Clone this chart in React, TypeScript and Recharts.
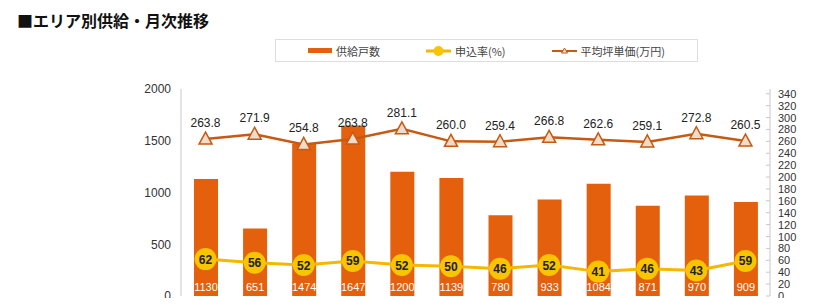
import React from 'react';
import { ComposedChart, Bar, Line, XAxis, YAxis, LabelList } from 'recharts';

// 月別データ
const months = ['1', '2', '3', '4', '5', '6', '7', '8', '9', '10', '11', '12'];
const supply = [1130, 651, 1474, 1647, 1200, 1139, 780, 933, 1084, 871, 970, 909];
const applyRate = [62, 56, 52, 59, 52, 50, 46, 52, 41, 46, 43, 59];
const unitPrice = [263.8, 271.9, 254.8, 263.8, 281.1, 260.0, 259.4, 266.8, 262.6, 259.1, 272.8, 260.5];
const leftTicks = [0, 500, 1000, 1500, 2000];
const rightTicks = [0, 20, 40, 60, 80, 100, 120, 140, 160, 180, 200, 220, 240, 260, 280, 300, 320, 340];

const BAR_COLOR = '#e4600c';
const RATE_COLOR = '#f5b800';
const PRICE_COLOR = '#c65a12';
const FONT = '"Liberation Sans", Arial, sans-serif';
const JP_FONT = '"Noto Sans CJK JP", sans-serif';

const data = months.map((m, i) => ({
  month: m,
  supply: supply[i],
  rate: applyRate[i],
  price: unitPrice[i],
}));

const TriangleDot = (props: any) => {
  const { cx, cy, index } = props;
  if (cx == null || cy == null) return <g key={index} />;
  return (
    <path
      key={index}
      d={`M${cx},${cy - 7} L${cx - 6.5},${cy + 5} L${cx + 6.5},${cy + 5} Z`}
      fill="#efdccb"
      stroke={PRICE_COLOR}
      strokeWidth={1.5}
    />
  );
};

const RateDot = (props: any) => {
  const { cx, cy, index } = props;
  if (cx == null || cy == null) return <g key={index} />;
  return <circle key={index} cx={cx} cy={cy} r={11} fill="#f9c400" />;
};

const RateLabel = (props: any) => {
  const { x, y, value } = props;
  return (
    <text x={x} y={y} dy={4.5} textAnchor="middle" fontSize={12} fontWeight="bold" fill="#222" fontFamily={FONT}>
      {value}
    </text>
  );
};

const RightTick = (props: any) => {
  const { x, y, payload } = props;
  return (
    <g>
      <line x1={x - 12} x2={x - 8} y1={y} y2={y} stroke="#c8c8c8" />
      <text x={x} y={y} dy={4} textAnchor="start" fontSize={11} fill="#333" fontFamily={FONT}>
        {payload.value}
      </text>
    </g>
  );
};

function LegendBox() {
  const item = (swatch: React.ReactNode, label: string) => (
    <div style={{ display: 'flex', alignItems: 'center', gap: 4 }}>
      {swatch}
      <span>{label}</span>
    </div>
  );
  return (
    <div
      style={{
        position: 'absolute',
        left: 275,
        top: 39,
        width: 423,
        height: 23,
        boxSizing: 'border-box',
        border: '1px solid #dedede',
        display: 'flex',
        alignItems: 'center',
        justifyContent: 'center',
        gap: 46,
        fontFamily: JP_FONT,
        fontSize: 11,
        color: '#444',
      }}
    >
      {item(<div style={{ width: 24, height: 5, background: BAR_COLOR }} />, '供給戸数')}
      {item(
        <svg width={25} height={12}>
          <line x1={0} x2={25} y1={6} y2={6} stroke={RATE_COLOR} strokeWidth={3} />
          <circle cx={12.5} cy={6} r={5} fill="#f9c400" />
        </svg>,
        '申込率(%)'
      )}
      {item(
        <svg width={25} height={12}>
          <line x1={0} x2={25} y1={6} y2={6} stroke={PRICE_COLOR} strokeWidth={2} />
          <path d="M12.5,3 L9.5,8 L15.5,8 Z" fill="#efdccb" stroke={PRICE_COLOR} strokeWidth={1} />
        </svg>,
        '平均坪単価(万円)'
      )}
    </div>
  );
}

export default function App() {
  return (
    <div style={{ position: 'relative', width: 830, height: 306, background: '#fff', margin: -8, overflow: 'hidden' }}>
      <div
        style={{
          position: 'absolute',
          left: 17,
          top: 9,
          fontFamily: JP_FONT,
          fontSize: 16,
          fontWeight: 'bold',
          color: '#111',
          lineHeight: '22px',
        }}
      >
        ■エリア別供給・月次推移
      </div>
      <LegendBox />
      <ComposedChart
        width={830}
        height={306}
        data={data}
        margin={{ top: 89, right: 20, bottom: 10, left: 121 }}
        style={{ position: 'absolute', left: 0, top: 0 }}
      >
        <XAxis dataKey="month" hide />
        <YAxis
          yAxisId="left"
          orientation="left"
          width={60}
          domain={[0, 2000]}
          ticks={leftTicks}
          tickLine={false}
          tickSize={0}
          tickMargin={10}
          axisLine={{ stroke: '#c8c8c8' }}
          tick={{ fontSize: 12, fill: '#333', fontFamily: FONT }}
          interval={0}
        />
        <YAxis
          yAxisId="right"
          orientation="right"
          width={40}
          domain={[0, 348]}
          ticks={rightTicks}
          tickLine={false}
          tickSize={0}
          tickMargin={8}
          axisLine={{ stroke: '#c8c8c8' }}
          tick={<RightTick />}
          interval={0}
        />
        <Bar yAxisId="left" dataKey="supply" fill={BAR_COLOR} barSize={24} isAnimationActive={false}>
          <LabelList
            dataKey="supply"
            position="insideBottom"
            offset={5}
            fill="#fff"
            fontSize={11}
            fontFamily={FONT}
          />
        </Bar>
        <Line
          yAxisId="right"
          dataKey="price"
          stroke={PRICE_COLOR}
          strokeWidth={2.5}
          dot={TriangleDot}
          activeDot={false}
          isAnimationActive={false}
        >
          <LabelList
            dataKey="price"
            position="top"
            offset={12}
            fill="#222"
            fontSize={12}
            fontFamily={FONT}
            formatter={(v: any) => Number(v).toFixed(1)}
          />
        </Line>
        <Line
          yAxisId="right"
          dataKey="rate"
          stroke={RATE_COLOR}
          strokeWidth={3}
          dot={RateDot}
          activeDot={false}
          isAnimationActive={false}
        >
          <LabelList dataKey="rate" content={<RateLabel />} />
        </Line>
      </ComposedChart>
    </div>
  );
}
